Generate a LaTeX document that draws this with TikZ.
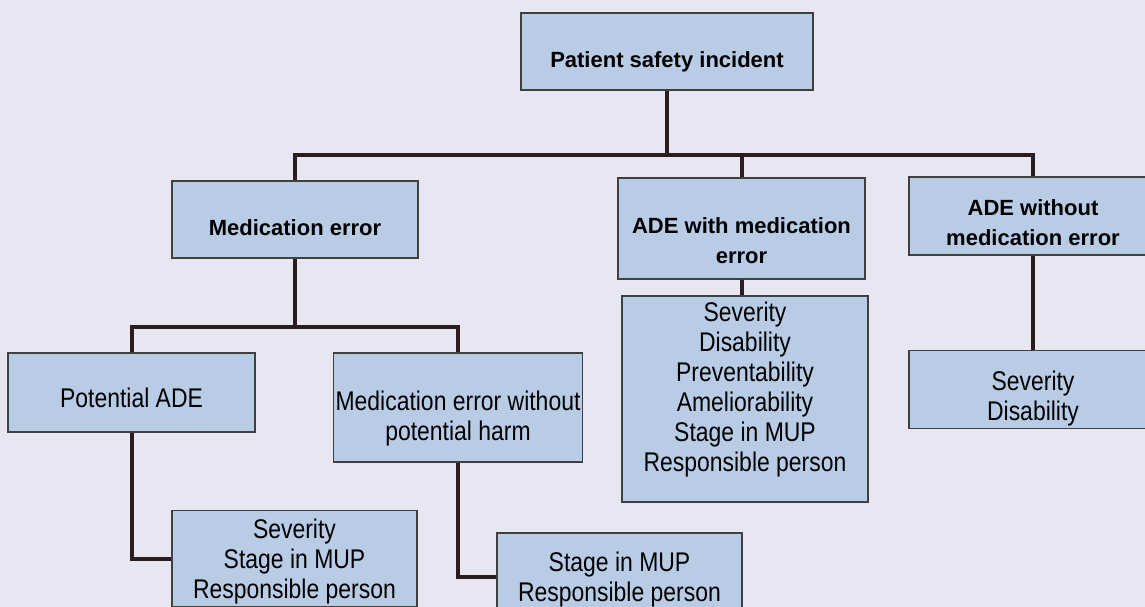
\documentclass[tikz,border=0pt]{standalone}
\usepackage{fontspec}
\setmainfont{Liberation Sans}
\newfontfamily\narrowsans[FakeStretch=0.85]{Liberation Sans}
\usetikzlibrary{positioning}
\definecolor{boxblue}{HTML}{B9CCE6}
\definecolor{paper}{HTML}{E7E6F1}
\definecolor{linkbrown}{HTML}{2A1C1F}

\begin{document}
\begin{tikzpicture}[
  x=1pt,y=-1pt,
  font=\narrowsans\fontsize{27}{30}\selectfont,
  box/.style={draw=black!75,line width=1.2pt,fill=boxblue,align=center,inner sep=2pt},
  head/.style={box,font=\rmfamily\fontsize{22}{30}\selectfont\bfseries},
  drop/.style={execute at begin node={\rule{0pt}{#1pt}}},
  link/.style={line width=4pt,draw=linkbrown}
]
\clip (0,0) rectangle (1145,607);
\fill[paper] (0,0) rectangle (1145,607);

\node[head,drop=35.8,minimum width=292pt,minimum height=77pt] (incident) at (667,51.5) {Patient safety incident};
\node[head,drop=31.8,minimum width=246pt,minimum height=77pt] (mederr) at (295,219.5) {Medication error};
\node[head,drop=69.8,minimum width=247pt,minimum height=101pt] (adewith) at (741.5,228.5) {ADE with medication\\error};
\node[head,drop=59.8,minimum width=248pt,minimum height=78pt] (adewithout) at (1033,216) {ADE without\\medication error};
\node[box,minimum width=246pt,minimum height=206pt] (withdet) at (745,399) {Severity\\Disability\\Preventability\\Ameliorability\\Stage in MUP\\Responsible person\\[-6pt]\mbox{}};
\node[box,drop=68.5,minimum width=248pt,minimum height=77pt] (withoutdet) at (1033,389.5) {Severity\\Disability};
\node[box,drop=29.5,minimum width=247pt,minimum height=79pt] (potade) at (131.5,392.5) {Potential ADE};
\node[box,drop=72.5,minimum width=248pt,minimum height=109pt] (noharm) at (458,407.5) {Medication error without\\potential harm};
\node[box,drop=86.5,minimum width=245pt,minimum height=95pt] (potdet) at (294.5,558.5) {Severity\\Stage in MUP\\Responsible person};
\node[box,drop=54.5,minimum width=245pt,minimum height=88pt] (noharmdet) at (619.5,577) {Stage in MUP\\Responsible person};

\coordinate (bus) at (0,155);
\coordinate (split) at (0,327);
\draw[link] (incident.south) -- (incident.south |- bus);
\draw[link] (mederr.north) -- (mederr.north |- bus) -- (adewithout.north |- bus) -- (adewithout.north);
\draw[link] (adewith.north) -- (adewith.north |- bus);
\draw[link] (adewith.south) -- (adewith.south |- withdet.north);
\draw[link] (adewithout.south) -- (withoutdet.north);
\draw[link] (mederr.south) -- (mederr.south |- split);
\draw[link] (potade.north) -- (potade.north |- split) -- (noharm.north |- split) -- (noharm.north);
\draw[link] (potade.south) |- (potdet.west);
\draw[link] (noharm.south) |- (noharmdet.west);
\end{tikzpicture}
\end{document}
